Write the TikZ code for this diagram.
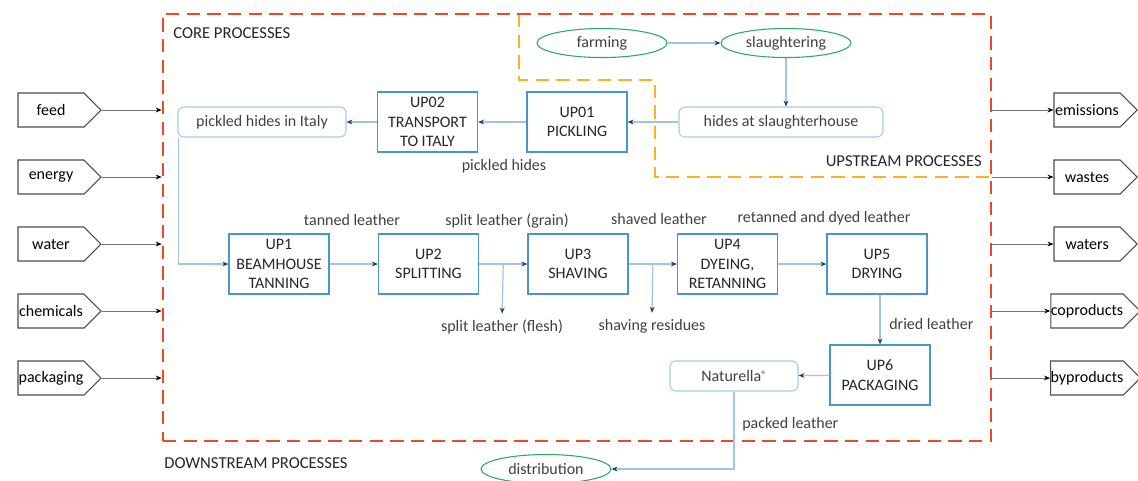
\documentclass[tikz,border=0pt]{standalone}
\usepackage{fontspec}
\setmainfont{Carlito}
\usetikzlibrary{arrows.meta,calc,positioning,shapes.geometric,shapes.symbols}
\definecolor{coreline}{RGB}{240,72,36}
\definecolor{upline}{RGB}{255,176,32}
\definecolor{boxline}{RGB}{70,150,215}
\definecolor{softline}{RGB}{165,202,236}
\definecolor{flowline}{RGB}{160,195,232}
\definecolor{tipcol}{RGB}{31,56,110}
\definecolor{siteline}{RGB}{40,170,100}
\definecolor{txt}{RGB}{64,64,64}
\newdimen\pxdim
\pxdim=0.75pt
\newcommand\diagfont{\fontsize{12}{14.6}\selectfont}
\tikzstyle{process}=[
  draw=boxline,
  line width=.95pt,
  font=\diagfont,
  text=black!85,
  align=center,
  inner sep=0pt,
  minimum height=60\pxdim,
  minimum width=100\pxdim,
  rectangle,
]
\tikzstyle{item}=[
  draw=softline,
  line width=.8pt,
  font=\diagfont,
  text=txt,
  inner sep=0pt,
  minimum height=30\pxdim,
  rounded corners=6\pxdim,
]
\tikzstyle{site}=[
  draw=siteline,
  line width=.8pt,
  ellipse,
  font=\diagfont,
  text=txt,
  inner sep=0pt,
  minimum height=29\pxdim,
  minimum width=130\pxdim,
]
\tikzstyle{resource}=[
  draw=black!70,
  line width=.8pt,
  signal,
  signal to=east,
  font=\diagfont,
  text=black,
  inner sep=0pt,
  minimum height=34\pxdim,
  minimum width=83\pxdim,
]
\tikzstyle{lbl}=[
  font=\diagfont,
  text=txt,
  inner sep=0pt,
]
\tikzstyle{flow}=[
  draw=flowline,
  line width=.9pt,
  >={Stealth[length=4.5pt,width=3.6pt,color=tipcol]},
]
\tikzstyle{inarrow}=[
  draw=black!55,
  line width=.7pt,
  >={Stealth[length=4.5pt,width=3.6pt,color=black]},
]
\tikzstyle{bin}=[
  draw=coreline,
  line width=1.9pt,
  dash pattern=on 10pt off 5.5pt,
  inner sep=0pt,
]
\tikzstyle{upbin}=[
  draw=upline,
  line width=1.9pt,
  dash pattern=on 10pt off 5.5pt,
]
\tikzstyle{binlabel}=[
  font=\fontsize{12.5}{15}\selectfont,
  text=black!85,
  inner sep=0pt,
]
\tikzset{
  node distance=149.5\pxdim,
}
\begin{document}
\begin{tikzpicture}[x=\pxdim, y=-\pxdim]
  \useasboundingbox (0,0) rectangle (1138,480);
  % process boundaries
  \draw [upbin] (519,14) |- (655,80) |- (991,177);
  \node (core) [bin, minimum width=828\pxdim, minimum height=427\pxdim] at (577,227.5) {};
  \node (corelabel) [binlabel, anchor=west] at (173,33) {CORE PROCESSES};
  \node (uplabel) [binlabel, anchor=east] at (982,161) {UPSTREAM PROCESSES};
  \node (downlabel) [binlabel, anchor=west] at (164,463) {DOWNSTREAM PROCESSES};

  % upstream
  \node (farming) [site] at (602,43) {farming};
  \node (slaughtering) [site] at (786,43) {slaughtering};
  \node (hides) [item, minimum width=204\pxdim] at (781,122) {hides at slaughterhouse};
  \node (up01) [process] at (577,122) {UP01\\PICKLING};
  \node (up02) [process, left of=up01] {UP02\\TRANSPORT\\TO ITALY};
  \node (italy) [item, minimum width=168\pxdim] at (262,122) {pickled hides in Italy};
  \node (pickled) [lbl] at (504,166) {pickled hides};

  % core
  \node (up1) [process] at (279,264) {UP1\\BEAMHOUSE\\TANNING};
  \node (up2) [process, right of=up1] {UP2\\SPLITTING};
  \node (up3) [process, right of=up2] {UP3\\SHAVING};
  \node (up4) [process, right of=up3] {UP4\\DYEING,\\RETANNING};
  \node (up5) [process, right of=up4] {UP5\\DRYING};
  \node (up6) [process] at (880,375) {UP6\\PACKAGING};
  \node (tanned) [lbl] at (352,220) {tanned leather};
  \node (grain) [lbl] at (507,221) {split leather (grain)};
  \node (shaved) [lbl] at (659,219) {shaved leather};
  \node (retanned) [lbl] at (824,218) {retanned and dyed leather};
  \node (flesh) [lbl] at (502,327) {split leather (flesh)};
  \node (residues) [lbl] at (652,326) {shaving residues};
  \node (dried) [lbl, anchor=west] at (889,324) {dried leather};

  % downstream
  \node (naturella) [item, minimum width=128\pxdim] at (734,376) {Naturella\raisebox{.45ex}{\fontsize{8}{8}\selectfont ®}};
  \node (distribution) [site] at (546,469) {distribution};
  \node (packed) [lbl, anchor=west] at (742,424) {packed leather};

  \draw [->, flow] (farming) -- (slaughtering);
  \draw [->, flow] (slaughtering.south) -- (slaughtering.south |- hides.north);
  \draw [->, flow] (hides) -- (up01);
  \draw [->, flow] (up01) -- (up02);
  \draw [->, flow] (up02) -- (italy);
  \draw [->, flow] ([xshift=1\pxdim]italy.south west) |- (up1);
  \draw [->, flow] (up1) -- (up2);
  \draw [->, flow] (up2) -- (up3);
  \draw [->, flow] (up3) -- (up4);
  \draw [->, flow] (up4) -- (up5);
  \coordinate (fleshpt) at ($(up2.east)!.5!(up3.west)$);
  \coordinate (residuept) at ($(up3.east)!.5!(up4.west)$);
  \draw [->, flow, shorten >=6\pxdim] (fleshpt) -- (flesh.north);
  \draw [->, flow, shorten >=6\pxdim] (residuept) -- (residues.north);
  \draw [->, flow] (up6.north |- up5.south) -- (up6.north);
  \draw [->, flow] (up6) -- (naturella);
  \draw [->, flow] (naturella.south) |- (distribution.east);

  % inputs and outputs
  \foreach \res [count=\i] in {feed,energy,water,chemicals,packaging} {
    \node (\res) [resource] at (51,{110+67*(\i-1)}) {\res};
    \draw [->, inarrow] (\res.east) -- (\res.east -| core.west);
  }
  \foreach \res [count=\i] in {emissions,wastes,waters,coproducts,byproducts} {
    \node (\res) [resource] at (1087,{110+67*(\i-1)}) {\res};
    \draw [->, inarrow] (\res.west -| core.east) -- (\res.west);
  }
\end{tikzpicture}
\end{document}
